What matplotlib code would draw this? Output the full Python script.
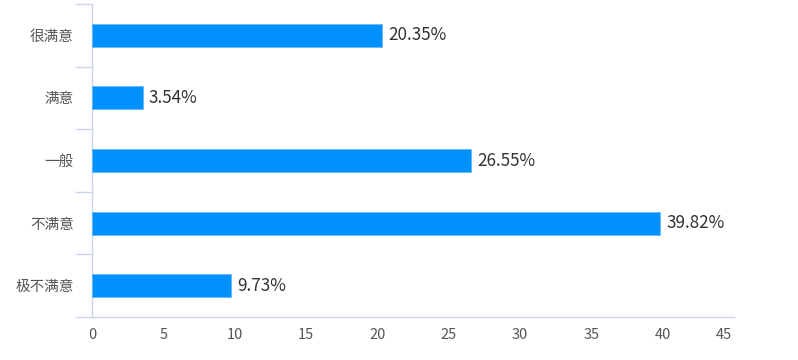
import matplotlib
matplotlib.use("Agg")
import matplotlib.pyplot as plt
import matplotlib.transforms as mtransforms
import numpy as np

plt.rcParams['font.family'] = ['Noto Sans CJK SC', 'DejaVu Sans']

categories = ['很满意', '满意', '一般', '不满意', '极不满意']
values = [20.35, 3.54, 26.55, 39.82, 9.73]
xticks = [0, 5, 10, 15, 20, 25, 30, 35, 40, 45]

axis_color = '#ccd6eb'
bar_color = '#0091ff'

fig = plt.figure(figsize=(7.98, 3.6), dpi=100)
ax = fig.add_axes([92/798, 1-317/360, (734-92)/798, (317-4)/360])

n = len(categories)
pos = np.arange(n)
ax.barh(pos, values, height=0.37, color=bar_color, edgecolor='#66b8ff', linewidth=0.6, zorder=3)
ax.set_ylim(n - 0.5, -0.5)
ax.set_xlim(0, 45)

for p, v in zip(pos, values):
    ax.text(v + 0.45, p, f'{v:.2f}%', va='center', ha='left', fontsize=12.3, color='#333333')

ax.set_yticks(pos)
ax.set_yticklabels(categories, fontsize=10.5, color='#555555')
ax.set_yticks(np.arange(n + 1) - 0.5, minor=True)
ax.tick_params(axis='y', which='major', length=0, pad=13)
ax.tick_params(axis='y', which='minor', length=12, color=axis_color, width=1)

ax.set_xticks(xticks)
ax.set_xticklabels([str(t) for t in xticks], fontsize=10.5, color='#555555')
ax.tick_params(axis='x', length=0, pad=8)

# last x label sits slightly inside the axis end in the reference
last = ax.get_xticklabels()[-1]
last.set_transform(last.get_transform() + mtransforms.ScaledTranslation(-10/100, 0, fig.dpi_scale_trans))

for s in ['top', 'right']:
    ax.spines[s].set_visible(False)
for s in ['left', 'bottom']:
    ax.spines[s].set_color(axis_color)
    ax.spines[s].set_linewidth(1)

fig.savefig('out.png', dpi=100)
